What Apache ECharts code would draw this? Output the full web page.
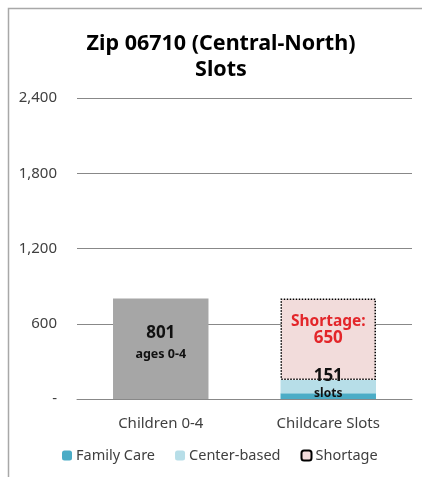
<!DOCTYPE html>
<html><head><meta charset="utf-8">
<script src="https://cdn.jsdelivr.net/npm/echarts@6/dist/echarts.min.js"></script>
<style>html,body{margin:0;padding:0;background:#fff}#c{width:422px;height:477px}</style>
</head><body><div id="c"></div>
<script>
const categories = ['Children 0-4', 'Childcare Slots'];
const children = [801, '-'];
const familyCare = ['-', 45];
const centerBased = ['-', 106];
const shortage = ['-', 650];
const yTicks = [0, 600, 1200, 1800, 2400];
const slotsTotal = 151;

const chart = echarts.init(document.getElementById('c'));
const FONT = '"Noto Sans", sans-serif';
chart.setOption({
  animation: false,
  backgroundColor: '#fff',
  graphic: [{
    type: 'rect', left: 6, top: 6, shape: {width: 440, height: 500},
    style: {fill: 'none', stroke: '#a8a8a8', lineWidth: 1.5}, silent: true
  }],
  title: {
    text: 'Zip 06710 (Central-North)\nSlots',
    left: 216, top: 26, textAlign: 'center',
    textStyle: {fontFamily: FONT, fontSize: 21.5, fontWeight: 'bold', color: '#000', lineHeight: 26}
  },
  legend: {
    data: ['Family Care', 'Center-based', 'Shortage'],
    bottom: 9, left: 57, itemWidth: 10, itemHeight: 10, itemGap: 20,
    textStyle: {fontFamily: FONT, fontSize: 14.5, color: '#404040', padding: [0, 0, 0, -1]}
  },
  grid: {left: 77, right: 10, top: 98, bottom: 78},
  xAxis: {
    type: 'category', data: categories,
    axisTick: {show: false},
    axisLine: {lineStyle: {color: '#888', width: 1}},
    axisLabel: {fontFamily: FONT, fontSize: 15, color: '#404040', margin: 17}
  },
  yAxis: {
    type: 'value', min: yTicks[0], max: yTicks[yTicks.length - 1], interval: 600,
    axisLine: {show: false}, axisTick: {show: false},
    splitLine: {lineStyle: {color: '#888', width: 1}},
    axisLabel: {
      fontFamily: FONT, fontSize: 15, color: '#404040', margin: 20,
      formatter: v => v === 0 ? '-' : v.toLocaleString('en-US')
    }
  },
  series: [
    {
      name: 'Children', type: 'bar', stack: 's', data: children, barWidth: '57%',
      itemStyle: {color: '#a6a6a6'},
      label: {
        show: true, position: 'insideTop', distance: 24,
        formatter: p => '{a|' + p.value + '}\n{b|ages 0-4}',
        rich: {
          a: {fontFamily: FONT, fontSize: 17, fontWeight: 'bold', color: '#111', lineHeight: 22},
          b: {fontFamily: FONT, fontSize: 12.5, fontWeight: 'bold', color: '#111', lineHeight: 20}
        }
      }
    },
    {
      name: 'Family Care', type: 'bar', stack: 's', data: familyCare, z: 2,
      itemStyle: {color: '#4bacc6'}
    },
    {
      name: 'Center-based', type: 'bar', stack: 's', data: centerBased, z: 4,
      itemStyle: {color: '#b7dee8'},
      label: {
        show: true, position: 'insideBottom', distance: -8,
        formatter: () => '{a|' + slotsTotal + '}\n{b|slots}',
        rich: {
          a: {fontFamily: FONT, fontSize: 17, fontWeight: 'bold', color: '#111', lineHeight: 18},
          b: {fontFamily: FONT, fontSize: 12, fontWeight: 'bold', color: '#111', lineHeight: 16}
        }
      }
    },
    {
      name: 'Shortage', type: 'bar', stack: 's', data: shortage, z: 3,
      itemStyle: {color: '#f2dcdb', borderColor: '#000', borderWidth: 1.5, borderType: 'dotted'},
      label: {
        show: true, position: 'insideTop', distance: 15,
        formatter: p => '{a|Shortage:}\n{b|' + p.value + '}',
        rich: {
          a: {fontFamily: FONT, fontSize: 15.5, fontWeight: 'bold', color: '#e3262a', lineHeight: 16},
          b: {fontFamily: FONT, fontSize: 17, fontWeight: 'bold', color: '#e3262a', lineHeight: 17}
        }
      }
    }
  ]
});
</script></body></html>
